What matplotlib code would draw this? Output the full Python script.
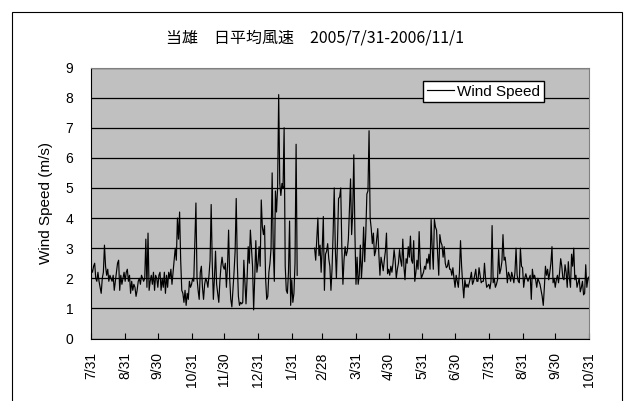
import matplotlib
matplotlib.use("Agg")
import matplotlib.pyplot as plt
import numpy as np
import pandas as pd
from matplotlib.patches import Rectangle

title = "当雄　日平均風速　2005/7/31-2006/11/1"
series_name = "Wind Speed"
y_label = "Wind Speed (m/s)"

# daily mean wind speed (m/s)
# first run: 2005-07-31 .. 2006-02-05
start_a = "2005-07-31"
speed_a = [
    2.3, 2.2, 2.4, 2.5, 2.0, 1.9, 2.2, 1.9, 1.7, 1.5, 2.0, 2.2, 3.1, 2.4, 2.1, 2.3,
    1.9, 2.1, 2.0, 1.9, 2.1, 1.6, 1.9, 2.2, 2.5, 2.6, 1.6, 2.1, 1.8, 2.0, 2.2,
    1.9, 2.2, 2.3, 1.9, 2.1, 1.5, 1.9, 1.6, 1.8, 1.7, 1.4, 1.6, 1.9, 2.0, 1.8,
    2.1, 2.0, 1.9, 2.0, 3.3, 1.7, 3.5, 1.6, 1.9, 2.1, 1.8, 2.2, 1.6, 2.1, 2.0,
    1.7, 2.1, 2.2, 1.6, 2.0, 1.7, 2.2, 1.5, 2.1, 1.7, 2.2, 2.0, 2.3, 1.8, 2.2,
    2.6, 3.0, 2.6, 4.0, 3.3, 4.2, 2.6, 1.6, 1.5, 1.2, 1.6, 1.1, 1.5, 1.3, 1.9, 1.7,
    1.8, 2.0, 1.9, 3.2, 4.5, 2.0, 1.6, 1.3, 2.2, 2.4, 1.7, 1.3, 1.8, 2.0, 1.9,
    1.7, 2.1, 2.6, 4.45, 2.5, 1.3, 2.0, 2.9, 1.8, 1.5, 1.2, 1.9, 2.4, 2.7, 2.4,
    2.3, 2.5, 1.7, 2.4, 3.6, 2.0, 1.3, 1.05, 1.6, 2.2, 2.9, 4.65, 2.5, 1.4, 1.1,
    1.2, 1.15, 1.2, 2.6, 1.9, 1.15, 2.0, 3.05, 2.5, 3.6, 3.0, 2.4, 0.95, 2.0, 3.25, 2.2,
    2.5, 3.05, 2.4, 4.6, 3.7, 3.45, 3.75, 2.0, 1.3, 1.4, 2.2, 2.5, 3.0, 5.5, 3.0,
    1.9, 4.9, 4.2, 5.0, 8.1, 5.15, 4.75, 5.15, 5.0, 7.0, 2.4, 1.6, 1.5, 2.2, 3.9, 1.1,
    1.95, 1.2, 1.5, 2.5, 6.45, 2.1,
]
# second run after the gap: 2006-02-21 .. 2006-11-01
start_b = "2006-02-21"
speed_b = [
    3.0, 2.6, 3.3, 4.0, 2.75, 3.1, 2.2,
    3.0, 4.05, 1.6, 2.8, 2.9, 3.15, 2.65, 2.4, 1.6, 2.3, 3.5, 5.0, 3.0, 2.0, 3.2,
    4.65, 4.7, 5.0, 3.0, 1.8, 2.6, 3.05, 2.75, 2.9, 3.3, 4.3, 5.3, 3.45, 4.2, 6.1, 3.5,
    1.8, 2.7, 1.8, 2.1, 3.1, 2.0, 2.6, 3.7, 2.55, 3.5, 4.8, 4.9, 6.9, 4.0, 3.65,
    3.15, 3.5, 2.75, 2.9, 3.3, 3.65, 2.8, 2.1, 2.7, 2.5, 2.25, 2.6, 2.9, 3.5, 2.15,
    2.3, 2.1, 2.4, 2.2, 2.5, 2.95, 2.6, 2.0, 2.3, 2.5, 2.95, 2.6, 2.4, 3.3, 2.4,
    1.95, 2.65, 2.5, 3.05, 2.7, 3.4, 2.6, 2.5, 3.25, 1.9, 2.2, 2.6, 2.3, 3.55, 2.5, 2.0,
    2.1, 2.2, 2.4, 2.3, 2.65, 2.5, 2.8, 2.3, 3.95, 3.0, 2.3, 3.95, 3.7, 3.6, 2.8,
    2.1, 3.45, 3.2, 3.1, 2.7, 3.05, 2.5, 2.35, 2.4, 2.6, 2.3, 2.3, 2.1, 2.35, 2.0,
    1.7, 2.1, 1.9, 1.7, 2.2, 3.25, 2.4, 1.8, 1.35, 1.95, 1.7, 1.8, 1.7, 1.85, 2.0,
    2.2, 1.8, 1.9, 2.1, 2.3, 1.9, 1.9, 2.35, 2.1, 1.85, 1.9, 1.9, 2.5, 2.0, 1.7, 1.75,
    1.8, 1.65, 1.9, 3.75, 1.85, 2.0, 1.7, 1.8, 1.95, 2.95, 2.15, 2.3, 2.55, 3.45, 2.6,
    2.7, 2.35, 1.85, 2.2, 2.1, 1.9, 2.2, 2.05, 1.85, 2.2, 3.0, 2.1, 1.9, 1.85, 3.0, 2.4,
    2.35, 1.7, 2.0, 2.15, 2.0, 1.9, 2.0, 2.1, 1.3, 2.3, 2.0, 2.1, 1.95, 1.7, 2.0,
    1.9, 1.8, 1.6, 1.4, 1.1, 1.7, 2.4, 2.1, 2.3, 1.95, 2.2, 2.5, 3.05, 1.85, 2.0,
    1.7, 1.95, 2.1, 1.85, 2.2, 2.65, 2.4, 2.0, 1.95, 2.45, 2.2, 1.7, 2.55, 2.0, 1.7,
    2.8, 2.4, 3.0, 1.95, 2.1, 1.7, 1.85, 2.0, 1.55, 1.7, 1.9, 1.45, 1.5, 2.45, 1.7, 2.0,
    2.05, 1.6,
]

tick_dates = [
    "2005-07-31", "2005-08-31", "2005-09-30", "2005-10-31", "2005-11-30",
    "2005-12-31", "2006-01-31", "2006-02-28", "2006-03-31", "2006-04-30",
    "2006-05-31", "2006-06-30", "2006-07-31", "2006-08-31", "2006-09-30",
    "2006-10-31",
]
tick_labels = [
    "7/31", "8/31", "9/30", "10/31", "11/30", "12/31", "1/31", "2/28",
    "3/31", "4/30", "5/31", "6/30", "7/31", "8/31", "9/30", "10/31",
]
y_ticks = list(range(10))

dates_a = pd.date_range(start_a, periods=len(speed_a), freq="D")
dates_b = pd.date_range(start_b, periods=len(speed_b), freq="D")
# one NaN between the runs so the line breaks over the missing days
gap_day = pd.DatetimeIndex([dates_a[-1] + pd.Timedelta(days=1)])
dates = dates_a.append(gap_day).append(dates_b)
values = np.array(speed_a + [np.nan] + speed_b)

plt.rcParams["font.family"] = ["Liberation Sans", "Noto Sans CJK JP", "DejaVu Sans"]

W, H = 625, 401
fig = plt.figure(figsize=(W / 100, H / 100), dpi=100)
left, right, top, bottom = 91.4, 589, 67.5, 338.5
ax = fig.add_axes([left / W, 1 - bottom / H, (right - left) / W, (bottom - top) / H])
ax.set_facecolor("#c0c0c0")

ax.plot(dates, values, color="black", lw=0.85, label=series_name)

ax.set_xlim(pd.Timestamp(tick_dates[0]), pd.Timestamp(tick_dates[-1]))
ax.set_ylim(0, 9)
ax.set_yticks(y_ticks)
ax.yaxis.grid(True, color="black", lw=0.9)
ax.set_axisbelow(True)
ax.set_xticks(pd.to_datetime(tick_dates))
ax.set_xticklabels(tick_labels, rotation=90, fontsize=10)
ax.tick_params(axis="x", direction="in", length=4, width=0.8, pad=10)
ax.tick_params(axis="y", length=0, pad=13, labelsize=10)

for side in ("top", "right"):
    ax.spines[side].set_color("#808080")
for side in ("left", "bottom"):
    ax.spines[side].set_color("black")

ax.set_ylabel(y_label, fontsize=11)
ax.yaxis.set_label_coords(-0.077, 0.5)

ax.legend(loc="upper left", bbox_to_anchor=(423 / W, 1 - 80.7 / H),
          bbox_transform=fig.transFigure, fancybox=False, framealpha=1,
          edgecolor="black", borderpad=0.25, handlelength=1.8,
          handletextpad=0.2, borderaxespad=0, fontsize=11)

fig.text(315 / W, 1 - 38 / H, title, ha="center", va="center", fontsize=11.5,
         family=["Noto Sans CJK JP", "DejaVu Sans"])

# outer chart border (bottom edge is cropped in the original)
fig.add_artist(Rectangle((12 / W, -0.1), 610 / W, 1 - 12 / H + 0.1,
                         transform=fig.transFigure, fill=False,
                         edgecolor="black", lw=0.8))

fig.savefig("out.png", dpi=100)
